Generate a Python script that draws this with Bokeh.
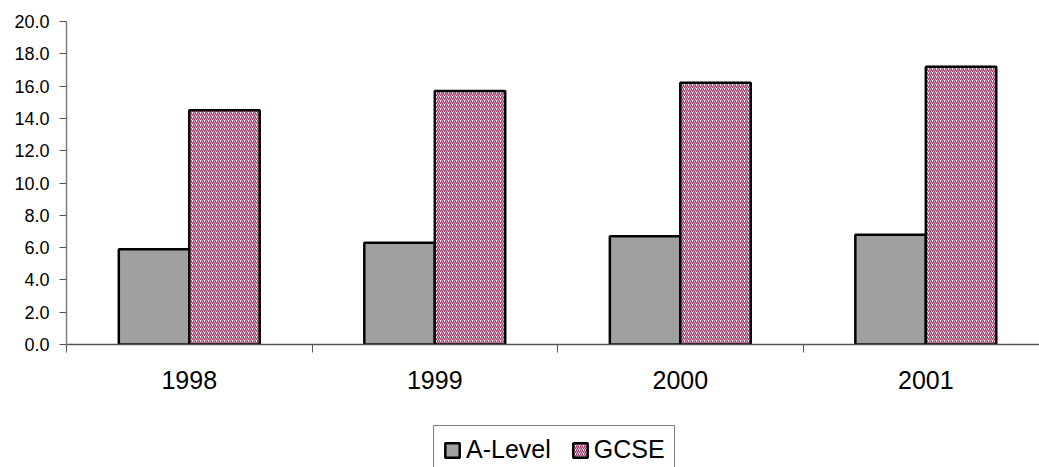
from bokeh.plotting import figure
from bokeh.layouts import column
from bokeh.models import (Range1d, FixedTicker, Legend, LegendItem, ColumnDataSource,
                          LinearAxis, NumeralTickFormatter)
from bokeh.embed import file_html
from bokeh.resources import INLINE

# ---- data ----
years = ["1998", "1999", "2000", "2001"]
a_level = [5.9, 6.3, 6.7, 6.8]
gcse = [14.5, 15.7, 16.2, 17.2]
y_ticks = [0, 2, 4, 6, 8, 10, 12, 14, 16, 18, 20]

# ---- styles ----
BAR_W = 0.287
A_STYLE = dict(fill_color="#A0A0A0", line_color="black", line_width=2.5)
G_STYLE = dict(fill_color="white", line_color="black", line_width=2.5,
               hatch_pattern="right_diagonal_line", hatch_color="#993366",
               hatch_scale=4, hatch_weight=1.3)
centers = [i + 0.5 for i in range(len(years))]

p = figure(width=1039, height=420, output_backend="svg", toolbar_location=None,
           x_range=Range1d(0, 3.963), y_range=Range1d(0, 20),
           x_axis_type=None, y_axis_type=None,
           min_border_left=66, min_border_right=0, min_border_top=21, min_border_bottom=76)
p.outline_line_color = None
p.background_fill_color = "white"
p.border_fill_color = "white"

src = ColumnDataSource(dict(
    xa=[c - BAR_W / 2 for c in centers],
    xg=[c + BAR_W / 2 for c in centers],
    a=a_level, g=gcse))

# axes
yaxis = LinearAxis(ticker=FixedTicker(ticks=y_ticks),
                   formatter=NumeralTickFormatter(format="0.0"))
yaxis.axis_line_color = "#808080"
yaxis.axis_line_width = 1.5
yaxis.major_tick_line_color = "#555555"
yaxis.major_tick_out = 7
yaxis.major_tick_in = 0
yaxis.minor_tick_line_color = None
yaxis.major_label_standoff = 10
yaxis.major_label_text_font = "Liberation Sans"
yaxis.major_label_text_font_size = "18px"
yaxis.major_label_text_color = "black"
p.add_layout(yaxis, "left")

xaxis = LinearAxis(ticker=FixedTicker(ticks=centers, minor_ticks=[0, 1, 2, 3, 4]))
xaxis.major_label_overrides = {c: y for c, y in zip(centers, years)}
xaxis.axis_line_color = "#555555"
xaxis.axis_line_width = 1.5
xaxis.major_tick_line_color = None
xaxis.major_tick_out = 0
xaxis.major_tick_in = 0
xaxis.minor_tick_line_color = "#555555"
xaxis.minor_tick_out = 8
xaxis.minor_tick_in = 0
xaxis.major_label_standoff = 18
xaxis.major_label_text_font = "Liberation Sans"
xaxis.major_label_text_font_size = "25px"
xaxis.major_label_text_color = "black"
p.add_layout(xaxis, "below")

# grid
p.ygrid.ticker = FixedTicker(ticks=y_ticks)
p.ygrid.grid_line_color = "#5a5a5a"
p.ygrid.grid_line_width = 1
p.xgrid.visible = False

# bars
p.vbar(x="xa", top="a", width=BAR_W, bottom=0, source=src, **A_STYLE)
p.vbar(x="xg", top="g", width=BAR_W, bottom=0, source=src, **G_STYLE)

# ---- legend strip (own figure; hidden proxy bars only supply the legend swatches) ----
q = figure(width=1039, height=47, output_backend="svg", toolbar_location=None,
           x_range=Range1d(0, 1), y_range=Range1d(0, 1),
           x_axis_type=None, y_axis_type=None,
           min_border_left=0, min_border_right=0, min_border_top=0, min_border_bottom=0)
q.outline_line_color = None
q.xgrid.visible = False
q.ygrid.visible = False
la = q.vbar(x="xa", top="a", width=BAR_W, source=src, visible=False, **A_STYLE)
lg = q.vbar(x="xg", top="g", width=BAR_W, source=src, visible=False, **G_STYLE)

legend = Legend(items=[LegendItem(label="A-Level", renderers=[la]),
                       LegendItem(label="GCSE", renderers=[lg])],
                orientation="horizontal", location=(367, -7))
legend.label_text_font = "Liberation Sans"
legend.label_text_font_size = "25px"
legend.label_text_color = "black"
legend.glyph_width = 18
legend.glyph_height = 18
legend.label_height = 24
legend.label_standoff = 5
legend.spacing = 20
legend.padding = 9
legend.margin = 0
legend.border_line_color = "black"
legend.border_line_width = 1
legend.background_fill_color = "white"
legend.background_fill_alpha = 1
q.add_layout(legend, "center")

open("out.html", "w").write(file_html(column(p, q, spacing=0), INLINE))
